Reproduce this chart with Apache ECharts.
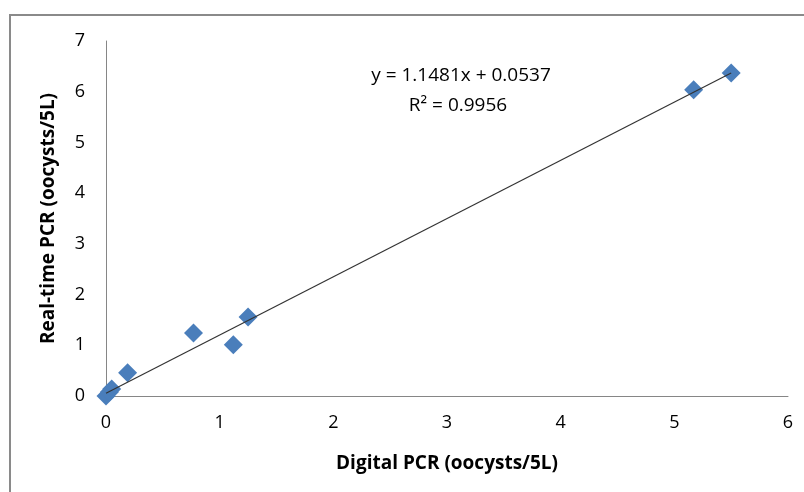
<!DOCTYPE html>
<html>
<head>
<meta charset="utf-8">
<script src="https://cdn.jsdelivr.net/npm/echarts@6/dist/echarts.min.js"></script>
<style>
  html, body { margin: 0; padding: 0; background: #fff; }
  #chart { width: 804px; height: 492px; }
</style>
</head>
<body>
<div id="chart"></div>
<script>
// Digital PCR vs real-time PCR measurements (oocysts/5L)
const digitalPcr = [0, 0.03, 0.05, 0.19, 0.77, 1.12, 1.25, 5.17, 5.50];
const realTimePcr = [0, 0.08, 0.14, 0.46, 1.24, 1.01, 1.56, 6.04, 6.37];
const slope = 1.1481;
const intercept = 0.0537;
const equationText = 'y = 1.1481x + 0.0537';
const r2Text = 'R² = 0.9956';
const xTicks = [0, 1, 2, 3, 4, 5, 6];
const yTicks = [0, 1, 2, 3, 4, 5, 6, 7];

const points = digitalPcr.map((x, i) => [x, realTimePcr[i]]);
const xMin = Math.min(...digitalPcr);
const xMax = Math.max(...digitalPcr);
const trend = [[xMin, slope * xMin + intercept], [xMax, slope * xMax + intercept]];

const font = '"Open Sans", "Liberation Sans", sans-serif';
const chart = echarts.init(document.getElementById('chart'));
chart.setOption({
  animation: false,
  backgroundColor: '#fff',
  grid: { left: 106, right: 16, top: 41, bottom: 96 },
  graphic: [
    {
      type: 'rect',
      shape: { x: 10, y: 15, width: 900, height: 600 },
      style: { fill: 'none', stroke: '#8a8a8a', lineWidth: 2 },
      z: 100
    },
    {
      type: 'text',
      style: { text: equationText, x: 461, y: 76, align: 'center', verticalAlign: 'middle',
               font: '19px ' + font, fill: '#000' }
    },
    {
      type: 'text',
      style: { text: r2Text, x: 458, y: 106, align: 'center', verticalAlign: 'middle',
               font: '19px ' + font, fill: '#000' }
    }
  ],
  xAxis: {
    type: 'value',
    min: xTicks[0], max: xTicks[xTicks.length - 1], interval: 1,
    name: 'Digital PCR (oocysts/5L)',
    nameLocation: 'middle', nameGap: 58,
    nameTextStyle: { fontFamily: font, fontSize: 19, fontWeight: 'bold', color: '#000' },
    axisLine: { onZero: false, lineStyle: { color: '#868686', width: 1 } },
    axisTick: { show: false },
    axisLabel: { fontFamily: font, fontSize: 18, color: '#000', margin: 18 },
    splitLine: { show: false }
  },
  yAxis: {
    type: 'value',
    min: yTicks[0], max: yTicks[yTicks.length - 1], interval: 1,
    name: 'Real-time PCR (oocysts/5L)',
    nameLocation: 'middle', nameGap: 48,
    nameTextStyle: { fontFamily: font, fontSize: 19, fontWeight: 'bold', color: '#000' },
    axisLine: { show: true, onZero: false, lineStyle: { color: '#868686', width: 1 } },
    axisTick: { show: false },
    axisLabel: { fontFamily: font, fontSize: 18, color: '#000', margin: 21 },
    splitLine: { show: false }
  },
  series: [
    {
      type: 'line',
      data: trend,
      symbol: 'none',
      lineStyle: { color: '#333', width: 1.2 },
      z: 3
    },
    {
      type: 'scatter',
      data: points,
      symbol: 'diamond',
      symbolSize: 19,
      itemStyle: { color: '#4a7ebb', opacity: 1 },
      z: 2
    }
  ]
});
</script>
</body>
</html>
